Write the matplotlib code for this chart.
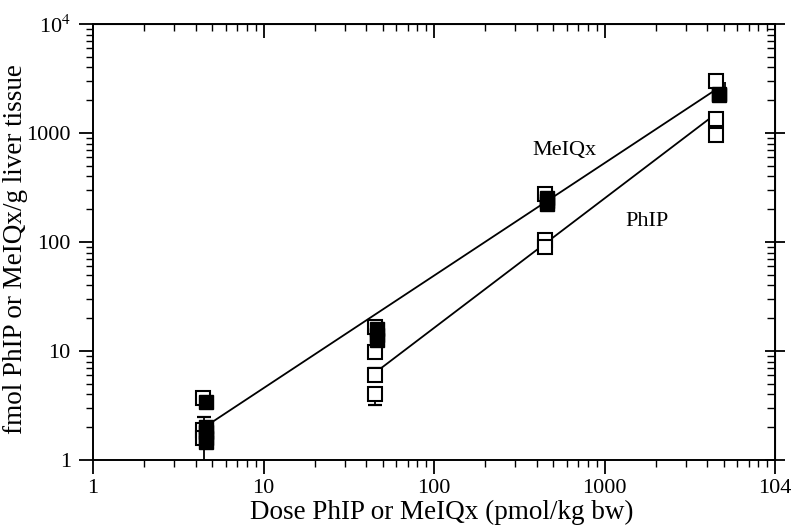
import matplotlib
matplotlib.use("Agg")
import matplotlib.pyplot as plt
import numpy as np

plt.rcParams['font.family'] = ['Liberation Serif', 'DejaVu Serif']
plt.rcParams['mathtext.fontset'] = 'stix'

# PhIP (open squares)
phip_x = [4.4, 4.4, 4.4, 45, 45, 45, 45, 450, 450, 450, 4500, 4500, 4500]
phip_y = [3.7, 1.9, 1.6, 16.5, 9.8, 6.0, 4.0, 275, 105, 90, 3000, 1350, 950]
# MeIQx (filled squares)
meiqx_x = [4.6, 4.6, 4.6, 4.6, 4.6, 46, 46, 46, 460, 460, 460, 4700, 4700]
meiqx_y = [3.4, 2.0, 1.8, 1.6, 1.45, 16, 14, 12.6, 255, 240, 222, 2250, 2300]

# error bars (x, y, lower, upper)
err_x = [4.45, 45, 45, 5100]
err_y = [1.9, 6.0, 4.0, 2300]
err_lo = [1.2, 0.0, 0.8, 0.0]
err_hi = [0.6, 1.0, 0.0, 650]
err_cap = [5, 5, 5, 0]

# regression lines
meiqx_line_x = [4.5, 4500]
meiqx_line_y = [2.0, 2500]
phip_line_x = [45, 4500]
phip_line_y = [6.3, 1500]

x_ticks = [1, 10, 100, 1000, 10000]
x_ticklabels = ['1', '10', '100', '1000', '104']
y_ticks = [1, 10, 100, 1000, 10000]
y_ticklabels = ['1', '10', '100', '1000', r'10$^{4}$']

fig = plt.figure(figsize=(7.93, 5.26), dpi=100)
ax = fig.add_axes([93/793, 1-460/526, (775-93)/793, (460-24)/526])
ax.set_xscale('log')
ax.set_yscale('log')
ax.set_xlim(1, 10000)
ax.set_ylim(1, 10000)

ax.plot(meiqx_line_x, meiqx_line_y, color='black', lw=1.3, zorder=2)
ax.plot(phip_line_x, phip_line_y, color='black', lw=1.3, zorder=2)

for x, y, lo, hi, cs in zip(err_x, err_y, err_lo, err_hi, err_cap):
    ax.errorbar([x], [y], yerr=[[lo], [hi]], fmt='none', ecolor='black',
                elinewidth=1.3, capsize=cs, capthick=1.6, zorder=3)

ax.plot(phip_x, phip_y, linestyle='none', marker='s', markersize=10,
        markerfacecolor='white', markeredgecolor='black', markeredgewidth=1.5, zorder=4)
ax.plot(meiqx_x, meiqx_y, linestyle='none', marker='s', markersize=10,
        markerfacecolor='black', markeredgecolor='black', markeredgewidth=1.0, zorder=5)

ax.annotate('MeIQx', xy=(564, 526-151), xycoords='figure pixels', ha='center', va='center', fontsize=16)
ax.annotate('PhIP', xy=(647, 526-221), xycoords='figure pixels', ha='center', va='center', fontsize=16)

ax.set_xticks(x_ticks)
ax.set_xticklabels(x_ticklabels)
ax.set_yticks(y_ticks)
ax.set_yticklabels(y_ticklabels)
ax.tick_params(which='major', direction='out', length=10, width=1.3, labelsize=16, pad=4)
ax.tick_params(axis='y', which='major', pad=6)
ax.tick_params(which='minor', direction='out', length=5, width=1.0)
for s in ax.spines.values():
    s.set_linewidth(1.4)

# top and right ticks (inward)
axt = ax.secondary_xaxis('top')
axt.set_xticks(x_ticks)
axt.set_xticklabels([])
axt.tick_params(which='major', direction='in', length=10, width=1.3)
axt.tick_params(which='minor', direction='in', length=5, width=1.0)
axr = ax.secondary_yaxis('right')
axr.set_yticks(y_ticks)
axr.set_yticklabels([])
axr.tick_params(which='major', direction='inout', length=14, width=1.3)
axr.tick_params(which='minor', direction='in', length=6, width=1.0)

ax.set_xlabel('Dose PhIP or MeIQx (pmol/kg bw)', fontsize=19.5)
ax.set_ylabel('fmol PhIP or MeIQx/g liver tissue', fontsize=19.5)
ax.xaxis.set_label_coords((442-93)/682, -(500-460)/436)
ax.yaxis.set_label_coords(-(93-28)/682, (460-249)/436)

fig.savefig('out.png', dpi=100)
